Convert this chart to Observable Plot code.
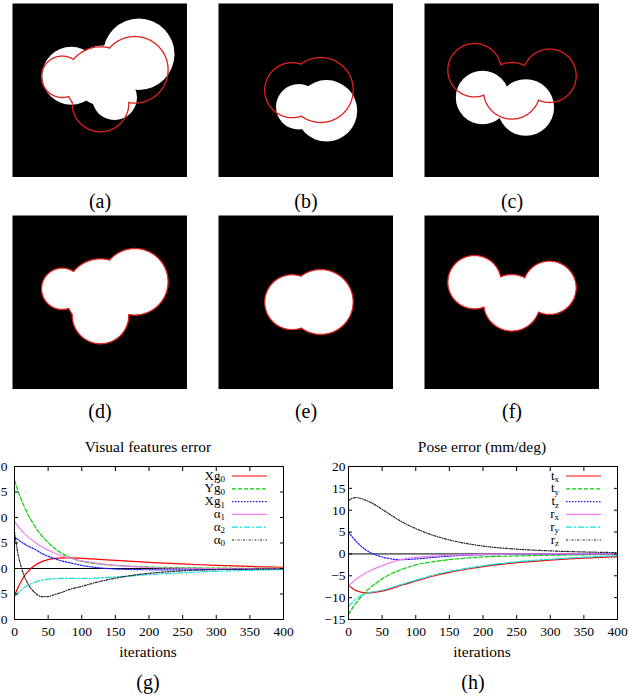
<!DOCTYPE html>
<html><head><meta charset="utf-8">
<script src="https://cdn.jsdelivr.net/npm/d3@7"></script>
<script src="https://cdn.jsdelivr.net/npm/@observablehq/plot@0.6"></script>
<style>
body{margin:0;background:#fff;overflow:hidden}
#root{position:relative;width:628px;height:700px;overflow:hidden;font-family:"Liberation Serif","DejaVu Serif",serif;color:#000}
#root > *{position:absolute}
.lbl{font-size:20px;text-align:center;width:100px;line-height:24px;height:24px}
.ttl{font-size:15.5px;text-align:center;width:300px;line-height:18px;height:18px}
</style></head><body><div id="root"></div>
<script>
// ---------- image panels: circles [cx, cy, r] in image pixels (image is 175 px wide) ----------
const currentA = [[58.7, 72.3, 29], [90, 72, 30], [126.3, 50.7, 35.7], [102, 94, 22.5]];
const targetA  = [[49.7, 73.3, 20.7], [88, 78.3, 35], [122.3, 66.3, 33.3], [88, 100, 28.3]];
const currentB = [[80.3, 103.3, 22.8], [108, 107.3, 30.7]];
const targetB  = [[73.7, 86.7, 27.5], [102.2, 86.5, 32.5]];
const currentC = [[58, 94, 26.7], [101.3, 104, 28.3]];
const targetC  = [[50, 66.7, 26.7], [87.3, 87.3, 28.3], [125, 72.3, 26.7]];
const panelLabels = ["(a)", "(b)", "(c)", "(d)", "(e)", "(f)"];

// ---------- convergence curves ----------
const iterations = [0, 5, 10, 15, 20, 25, 30, 40, 50, 60, 70, 80, 100, 125, 150, 175, 200, 250, 300, 350, 400];
const xTicks = [0, 50, 100, 150, 200, 250, 300, 350, 400];

// (g) Visual features error
const featNames = [["Xg", "0"], ["Yg", "0"], ["Xg", "1"], ["\u03b1", "1"], ["\u03b1", "2"], ["\u03b1", "0"]];
const featXg0 = [-5.3, -3.8, -2.5, -1.4, -0.6, 0.1, 0.6, 1.3, 1.75, 2.0, 2.1, 2.1, 2.0, 1.8, 1.6, 1.4, 1.2, 0.9, 0.6, 0.4, 0.25];
const featYg0 = [17.3, 15.3, 13.5, 12.0, 10.6, 9.4, 8.3, 6.5, 5.1, 3.9, 3.0, 2.3, 1.4, 0.9, 0.6, 0.45, 0.3, 0.15, 0.08, 0.03, 0.0];
const featXg1 = [6.2, 5.7, 5.2, 4.8, 4.4, 4.1, 3.8, 3.0, 2.4, 1.9, 1.5, 1.2, 0.6, 0.15, -0.1, -0.2, -0.25, -0.25, -0.2, -0.15, -0.1];
const featA1  = [9.2, 8.3, 7.5, 6.8, 6.2, 5.7, 5.2, 4.3, 3.6, 3.0, 2.5, 2.1, 1.5, 1.0, 0.6, 0.35, 0.2, 0.05, 0, 0, 0];
const featA2  = [-5.5, -4.8, -4.2, -3.7, -3.3, -3.0, -2.7, -2.3, -2.1, -2.0, -1.95, -1.95, -1.95, -1.85, -1.65, -1.45, -1.2, -0.85, -0.55, -0.35, -0.2];
const featA0  = [7.2, 3.0, 0.3, -1.6, -3.0, -4.0, -4.7, -5.5, -5.5, -5.1, -4.7, -4.2, -3.5, -2.6, -1.9, -1.35, -0.95, -0.45, -0.2, -0.1, -0.05];
const featTicks = [-10, -5, 0, 5, 10, 15, 20];

// (h) Pose error (mm/deg)
const poseNames = [["t", "x"], ["t", "y"], ["t", "z"], ["r", "x"], ["r", "y"], ["r", "z"]];
const poseTx = [-7.2, -7.8, -8.3, -8.6, -8.8, -8.9, -8.9, -8.75, -8.5, -8.1, -7.6, -7.1, -6.2, -5.1, -4.2, -3.5, -2.9, -2.0, -1.4, -0.95, -0.6];
const poseTy = [-13.9, -12.6, -11.5, -10.5, -9.6, -8.8, -8.0, -6.8, -5.7, -4.8, -4.1, -3.5, -2.5, -1.8, -1.3, -0.95, -0.7, -0.45, -0.3, -0.2, -0.15];
const poseTz = [5.0, 4.0, 3.1, 2.3, 1.6, 1.0, 0.5, -0.2, -0.7, -1.05, -1.25, -1.3, -1.15, -0.8, -0.5, -0.3, -0.2, -0.1, -0.05, 0, 0];
const poseRx = [-7.3, -6.6, -6.0, -5.4, -4.9, -4.4, -4.0, -3.3, -2.7, -2.1, -1.6, -1.25, -0.8, -0.5, -0.3, -0.2, -0.1, -0.05, 0, 0, 0];
const poseRy = [-12.0, -11.2, -10.5, -9.9, -9.4, -9.1, -8.9, -8.6, -8.3, -7.9, -7.4, -6.9, -6.0, -4.9, -4.0, -3.3, -2.7, -1.8, -1.2, -0.75, -0.4];
const poseRz = [12.2, 12.7, 12.9, 12.8, 12.6, 12.3, 12.0, 11.2, 10.2, 9.2, 8.2, 7.3, 5.8, 4.3, 3.2, 2.4, 1.8, 1.1, 0.7, 0.45, 0.3];
const poseTicks = [-15, -10, -5, 0, 5, 10, 15, 20];

// ---------- styles ----------
const lineStyles = [
  {color: "#ff0000", dash: null},
  {color: "#00d000", dash: "4,2"},
  {color: "#1a1aff", dash: "1.5,1.5"},
  {color: "#f47cf4", dash: null},
  {color: "#10e0e0", dash: "6,2,2,2"},
  {color: "#222222", dash: "2,1.5,0.6,1.5"}
];
const RED = "#e0201a";
const SERIF = "Liberation Serif, DejaVu Serif, serif";
const root = document.getElementById("root");

function place(el, left, top) { el.style.left = left + "px"; el.style.top = top + "px"; root.appendChild(el); return el; }
function textDiv(cls, txt, cx, cy, w) {
  const d = document.createElement("div"); d.className = cls; d.textContent = txt;
  const h = cls === "lbl" ? 24 : 18;
  return place(d, cx - w / 2, cy - h / 2);
}

function outline(circles, step = 0.5) {
  const pts = [];
  circles.forEach(([cx, cy, r], i) => {
    for (let a = 0; a <= 360; a += step) {
      const t = a * Math.PI / 180, x = cx + r * Math.cos(t), y = cy + r * Math.sin(t);
      const hidden = circles.some(([qx, qy, qr], j) => j !== i && Math.hypot(x - qx, y - qy) < qr - 0.05);
      pts.push({x, y: hidden ? NaN : y, z: i});
    }
  });
  return pts;
}

function panel(white, red) {
  return Plot.plot({
    width: 175, height: 174, margin: 0,
    x: {domain: [0, 175], axis: null},
    y: {domain: [0, 174], reverse: true, axis: null},
    r: {type: "linear", domain: [0, 100], range: [0, 100]},
    marks: [
      Plot.frame({fill: "#000", stroke: "none"}),
      Plot.dot(white, {x: d => d[0], y: d => d[1], r: d => d[2], fill: "#fff", stroke: "none"}),
      Plot.line(outline(red), {x: "x", y: "y", z: "z", stroke: RED, strokeWidth: 1.3, curve: "linear"})
    ]
  });
}

const panels = [
  [currentA, targetA, 12, 3], [currentB, targetB, 218, 3], [currentC, targetC, 424, 3],
  [targetA, targetA, 12, 215], [targetB, targetB, 218, 215], [targetC, targetC, 424, 215]
];
panels.forEach(([w, r, x, y], i) => {
  place(panel(w, r), x, y);
  textDiv("lbl", panelLabels[i], x + 88, y + (i < 3 ? 198 : 196), 100);
});

function legend(names) {
  return (index, scales, values, dims) => {
    const right = dims.width - dims.marginRight, top = dims.marginTop;
    const g = d3.create("svg:g").attr("font-family", SERIF);
    names.forEach(([main, sub], k) => {
      const y = top + 10 + k * 12.8;
      const t = g.append("text").attr("x", right - 58).attr("y", y + 3.5)
        .attr("text-anchor", "end").attr("font-size", 13).attr("fill", "#000");
      t.append("tspan").text(main);
      t.append("tspan").attr("dy", 2.5).attr("font-size", 9).text(sub);
      g.append("line").attr("x1", right - 51).attr("x2", right - 16).attr("y1", y).attr("y2", y)
        .attr("stroke", lineStyles[k].color).attr("stroke-width", 1.2)
        .attr("stroke-dasharray", lineStyles[k].dash);
    });
    return g.node();
  };
}

function chart(series, names, yDomain, yTicks, marginLeft, yPad) {
  return Plot.plot({
    width: marginLeft + 269 + 11, height: 30 + 153 + 30,
    marginLeft, marginRight: 11, marginTop: 30, marginBottom: 30,
    style: {fontFamily: SERIF, fontSize: "13.5px", color: "#000", background: "transparent"},
    x: {domain: [0, 400]},
    y: {domain: yDomain},
    marks: [
      Plot.ruleY([0], {stroke: "#000", strokeWidth: 1}),
      ...series.map((vals, k) => Plot.line(iterations, {
        x: d => d, y: (d, i) => vals[i], stroke: lineStyles[k].color,
        strokeDasharray: lineStyles[k].dash, strokeWidth: 1.2, curve: "monotone-x"
      })),
      Plot.frame({stroke: "#000", strokeWidth: 1}),
      Plot.axisX({ticks: xTicks, tickSize: -4, tickPadding: 11, label: null}),
      Plot.axisX({anchor: "top", ticks: xTicks, tickSize: -4, tickFormat: () => "", label: null}),
      Plot.axisY({ticks: yTicks, tickSize: -4, tickPadding: yPad, label: null}),
      Plot.axisY({anchor: "right", ticks: yTicks, tickSize: -4, tickFormat: () => "", label: null}),
      legend(names)
    ]
  });
}

place(chart([featXg0, featYg0, featXg1, featA1, featA2, featA0], featNames, [-10, 20], featTicks, 50, 11), -36, 436);
place(chart([poseTx, poseTy, poseTz, poseRx, poseRy, poseRz], poseNames, [-15, 20], poseTicks, 35, 7), 313, 436);

textDiv("ttl", "Visual features error", 148, 447, 300);
textDiv("ttl", "Pose error (mm/deg)", 482, 447, 300);
textDiv("ttl", "iterations", 148, 652, 300);
textDiv("ttl", "iterations", 482, 652, 300);
textDiv("lbl", "(g)", 148, 682, 100);
textDiv("lbl", "(h)", 473, 682, 100);
</script></body></html>
